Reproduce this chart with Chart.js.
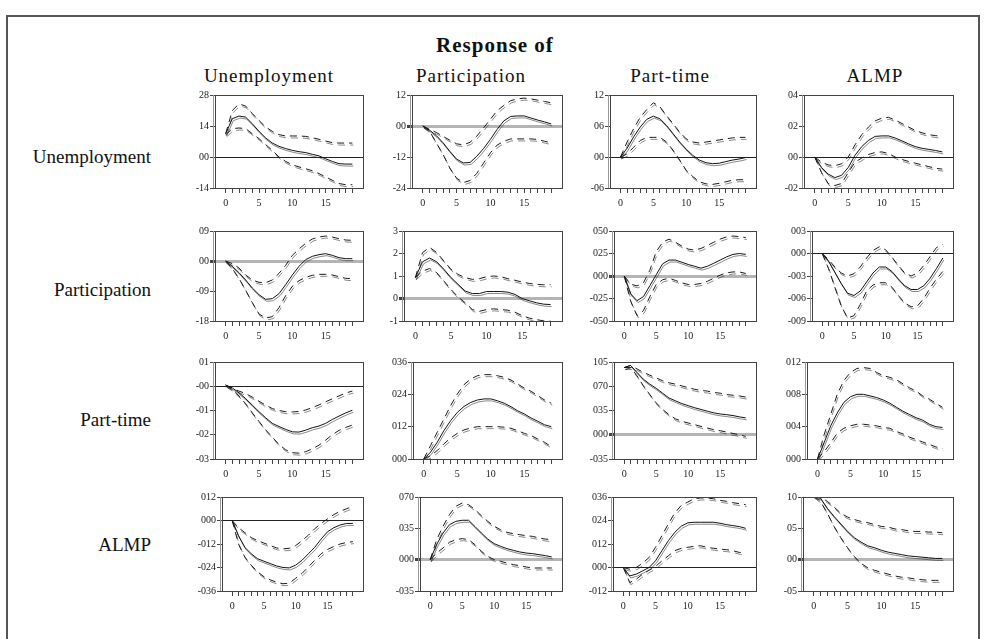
<!DOCTYPE html>
<html>
<head>
<meta charset="utf-8">
<script src="https://cdn.jsdelivr.net/npm/chart.js@4.4.1/dist/chart.umd.min.js"></script>
<style>
body { margin: 0; background: #fff; width: 986px; height: 639px; overflow: hidden; position: relative; font-family: "Liberation Serif", serif; color: #111; }
#frame { position: absolute; left: 6px; top: 15px; width: 974px; height: 640px; border: 2px solid #555; box-sizing: border-box; }
.lbl { position: absolute; white-space: nowrap; }
.head { font-size: 19px; text-align: center; width: 220px; top: 64px; line-height: 24px; letter-spacing: 1px; }
.row { font-size: 19px; text-align: right; left: 0; width: 151px; line-height: 24px; }
canvas { position: absolute; }
</style>
</head>
<body>
<div id="frame"></div>
<div class="lbl" style="left:0;width:990px;top:33px;text-align:center;font-size:21px;font-weight:bold;line-height:24px;letter-spacing:1px;">Response of</div>
<div class="lbl head" style="left:159px;">Unemployment</div>
<div class="lbl head" style="left:361px;">Participation</div>
<div class="lbl head" style="left:560px;">Part-time</div>
<div class="lbl head" style="left:765px;">ALMP</div>
<div class="lbl row" style="top:145px;">Unemployment</div>
<div class="lbl row" style="top:278px;">Participation</div>
<div class="lbl row" style="top:408px;">Part-time</div>
<div class="lbl row" style="top:533px;">ALMP</div>

<script>
// horizon and x ticks
const periods = [0,1,2,3,4,5,6,7,8,9,10,11,12,13,14,15,16,17,18,19];

// SHOCK: UNEMPLOYMENT
const unempByUnemp   = [10.5,17.3,18.5,18,15,11.6,8.6,6.3,4.8,3.8,3.0,2.4,2.0,1.2,0.5,-0.8,-2.0,-3.0,-3.2,-3.2];
const unempByUnempHi = [10.5,21,24,23,19.6,16.5,13.5,11.6,10.1,9.5,9.5,9.5,9.3,8.7,8.0,7.2,6.5,6.3,6.3,6.3];
const unempByUnempLo = [10,12.8,13.1,12.8,10.5,8.3,5.6,3.0,0,-2.0,-3.5,-4.5,-5.3,-6.2,-7.5,-9.0,-10.5,-12.0,-12.5,-12.5];
const unempByUnempTicks = [28,14,0,-14];
const unempByUnempTickText = ['28','14','00','-14'];

const participByUnemp   = [0,-1.6,-3.7,-6.5,-9.8,-12.8,-14.3,-14.1,-11.7,-8.7,-5.2,-1.3,2.0,3.7,3.9,3.9,3.1,2.3,1.6,0.8];
const participByUnempHi = [0,-1.3,-2.5,-4.0,-5.5,-6.9,-7.3,-6.3,-3.9,-0.7,2.6,5.9,8.0,9.8,10.5,10.8,10.5,10.0,9.5,9.0];
const participByUnempLo = [0,-2,-6.5,-11,-16.3,-20.2,-21.9,-21.1,-18.3,-14.3,-10.4,-7.4,-5.9,-5.0,-5.0,-5.0,-5.0,-5.2,-5.9,-6.5];
const participByUnempTicks = [12,0,-12,-24];
const participByUnempTickText = ['12','00','-12','-24'];

const partTimeByUnemp   = [0,1.7,3.9,5.8,7.3,7.9,7.4,6.1,4.5,2.9,1.5,0.3,-0.6,-1.1,-1.3,-1.2,-0.9,-0.6,-0.4,-0.1];
const partTimeByUnempHi = [0,2.9,5.5,7.7,9.2,10.5,9.7,8.0,6.4,4.8,3.5,2.9,2.7,2.9,3.1,3.3,3.5,3.7,3.8,3.8];
const partTimeByUnempLo = [0,0.6,1.9,3.2,3.8,3.8,3.8,2.9,1.3,-0.6,-2.6,-3.8,-4.8,-5.2,-5.3,-5.1,-4.8,-4.5,-4.4,-4.4];
const partTimeByUnempTicks = [12,6,0,-6];
const partTimeByUnempTickText = ['12','06','00','-06'];

const almpByUnemp   = [0,-0.67,-1.1,-1.33,-1.18,-0.67,0.11,0.67,1.07,1.33,1.36,1.36,1.22,1.04,0.84,0.67,0.56,0.49,0.42,0.33];
const almpByUnempHi = [0,-0.33,-0.51,-0.56,-0.44,0,0.78,1.44,1.93,2.33,2.51,2.56,2.38,2.16,1.93,1.71,1.56,1.44,1.38,1.33];
const almpByUnempLo = [0,-1.0,-1.71,-1.84,-1.71,-1.0,-0.33,-0.07,0.16,0.29,0.33,0.22,0,-0.16,-0.29,-0.4,-0.51,-0.62,-0.73,-0.78];
const almpByUnempTicks = [4,2,0,-2];
const almpByUnempTickText = ['04','02','00','-02'];

// SHOCK: PARTICIPATION
const unempByPartic   = [0,-1.6,-3.5,-5.7,-8.1,-10.1,-11.5,-11.3,-9.8,-7.1,-4.2,-1.6,0.4,1.4,1.9,2.2,1.7,1.0,0.7,0.7];
const unempByParticHi = [0,-0.8,-2.1,-4.2,-5.7,-6.4,-6.5,-5.7,-3.7,-1.3,1.7,3.6,5.3,6.6,7.2,7.5,7.2,6.7,6.3,6.2];
const unempByParticLo = [0,-2.3,-5.2,-8.8,-12.5,-15.9,-17.1,-16.7,-14.0,-10.4,-7.6,-5.9,-4.9,-4.3,-4.0,-4.0,-4.2,-4.7,-5.2,-5.3];
const unempByParticTicks = [9,0,-9,-18];
const unempByParticTickText = ['09','00','-09','-18'];

const participByPartic   = [0.93,1.63,1.8,1.63,1.3,0.93,0.63,0.33,0.22,0.22,0.31,0.31,0.31,0.28,0.18,0,-0.1,-0.19,-0.25,-0.27];
const participByParticHi = [0.93,2.04,2.27,2.04,1.67,1.3,1.07,0.93,0.85,0.88,0.97,1.0,0.97,0.88,0.81,0.73,0.67,0.63,0.61,0.61];
const participByParticLo = [0.93,1.22,1.33,1.15,0.78,0.4,0.07,-0.19,-0.49,-0.57,-0.49,-0.46,-0.49,-0.52,-0.61,-0.76,-0.87,-0.94,-0.99,-1.01];
const participByParticTicks = [3,2,1,0,-1];
const participByParticTickText = ['3','2','1','0','-1'];

const partTimeByPartic   = [0,-19.8,-27.4,-22.9,-10.8,1.4,13.5,17.7,17.7,15.3,12.8,10.8,8.7,10.8,14.2,17.7,21.2,24,25,24];
const partTimeByParticHi = [0,-9,-11,-7.6,6.3,27,37.5,41,37.5,33.3,29.9,28.8,30.6,34,37.5,41,43.4,44.4,43.8,42.7];
const partTimeByParticLo = [0,-28,-44,-38.5,-23,-9.4,-4.2,-2.4,-4.9,-7.6,-9.4,-9.4,-8.3,-5.9,-2.4,1,3.5,4.5,4.5,2.8];
const partTimeByParticTicks = [50,25,0,-25,-50];
const partTimeByParticTickText = ['050','025','000','-025','-050'];

const almpByPartic   = [0,-1.0,-2.5,-4.0,-5.3,-5.6,-5.0,-3.8,-2.6,-1.8,-1.8,-2.4,-3.4,-4.3,-4.8,-4.8,-4.3,-3.3,-2.0,-0.6];
const almpByParticHi = [0,-0.8,-1.8,-2.6,-3.0,-2.7,-1.8,-0.6,0.4,0.9,0.5,-0.5,-1.6,-2.6,-3.0,-2.6,-1.6,-0.4,0.8,1.2];
const almpByParticLo = [0,-2.0,-4.5,-7.0,-8.6,-8.3,-6.8,-5.0,-4.2,-3.9,-3.9,-4.5,-5.6,-6.6,-7.1,-7.0,-6.0,-4.6,-3.4,-2.4];
const almpByParticTicks = [3,0,-3,-6,-9];
const almpByParticTickText = ['003','000','-003','-006','-009'];

// SHOCK: PART-TIME
const unempByPartTime   = [0.05,-0.07,-0.27,-0.51,-0.78,-1.05,-1.3,-1.53,-1.66,-1.78,-1.88,-1.89,-1.81,-1.71,-1.64,-1.53,-1.37,-1.23,-1.1,-0.99];
const unempByPartTimeHi = [0.05,-0.1,-0.2,-0.3,-0.45,-0.62,-0.78,-0.92,-1.0,-1.05,-1.06,-1.04,-0.98,-0.88,-0.77,-0.64,-0.52,-0.4,-0.28,-0.2];
const unempByPartTimeLo = [0.05,-0.15,-0.4,-0.72,-1.1,-1.45,-1.8,-2.1,-2.4,-2.62,-2.74,-2.76,-2.7,-2.58,-2.43,-2.22,-2.0,-1.82,-1.7,-1.6];
const unempByPartTimeTicks = [1,0,-1,-2,-3];
const unempByPartTimeTickText = ['01','-00','-01','-02','-03'];

const participByPartTime   = [0,2.5,6.2,10.5,14.2,17.3,19.5,21,21.9,22.3,22.3,21.6,20.7,19.4,17.9,16.7,15.2,14,12.7,12];
const participByPartTimeHi = [0,4.9,9.9,14.8,19.8,24.1,27.6,29.7,30.9,31.3,31.3,30.9,30.3,29.3,27.8,26.3,25.1,23.5,21.9,20.7];
const participByPartTimeLo = [0,1.2,3.1,5.6,7.8,9.5,10.8,11.5,12,12,12,12,11.8,11.4,10.5,9.5,8.7,7.4,6.2,4.6];
const participByPartTimeTicks = [36,24,12,0];
const participByPartTimeTickText = ['036','024','012','000'];

const partTimeByPartTime   = [97,100,90,80,73,67,60,53,49,45,42,39,36.5,34,31.6,30,29,27.7,25.8,24.3];
const partTimeByPartTimeHi = [97,100,95,90,86,82,78,75,73,70.5,68,65.6,64,63,61,60,58,57,56,54.4];
const partTimeByPartTimeLo = [97,97,85,70.5,58,46,36.5,29,23,19.4,17,14.6,12,9.7,7.3,5.8,3.9,1.9,0,-2.4];
const partTimeByPartTimeTicks = [105,70,35,0,-35];
const partTimeByPartTimeTickText = ['105','070','035','000','-035'];

const almpByPartTime   = [0,2,4.1,5.7,7,7.7,8.0,8.0,7.8,7.6,7.3,6.9,6.4,5.9,5.5,5.1,4.8,4.3,4.0,3.9];
const almpByPartTimeHi = [0,3,5.5,8,9.7,10.7,11.2,11.3,11.2,10.7,10.3,10.1,9.8,9.3,8.8,8.4,7.8,7.4,6.9,6.4];
const almpByPartTimeLo = [0,0.9,2,3.2,3.8,4.1,4.3,4.3,4.2,4.1,3.9,3.8,3.4,3.1,2.7,2.4,2.1,1.8,1.5,1.3];
const almpByPartTimeTicks = [12,8,4,0];
const almpByPartTimeTickText = ['012','008','004','000'];

// SHOCK: ALMP
const unempByAlmp   = [0,-7.8,-13.7,-17,-19.5,-20.8,-22,-23.2,-24,-24.2,-22.8,-20.3,-17,-13.7,-9.5,-5.8,-3.7,-2.3,-1.5,-1.5];
const unempByAlmpHi = [0,-3.7,-6.2,-8.7,-10.3,-11.5,-12.8,-14,-14.5,-14.2,-12.8,-10.3,-7.5,-4.2,-1.5,0.8,3,4.7,6,7.2];
const unempByAlmpLo = [0,-12,-18.7,-22.8,-26.2,-28.7,-30.3,-31.5,-32.3,-32,-29.5,-27,-23.7,-20.3,-17,-14.8,-13.3,-12,-11.2,-10.8];
const unempByAlmpTicks = [12,0,-12,-24,-36];
const unempByAlmpTickText = ['012','000','-012','-024','-036'];

const participByAlmp   = [0,16.8,29.8,39,42.8,44,44,37,29.8,23,17.9,14.9,12.3,10.4,8.6,7.4,6.7,5.6,4.5,3];
const participByAlmpHi = [0,22.3,37.2,50.3,59.6,63.3,61.4,55.9,49.1,42.8,37.2,33.5,30.5,29,27.9,26.8,26,24.2,23,22.3];
const participByAlmpLo = [0,7.4,13,19.4,22.3,23.5,22.3,16.8,9.3,3.7,0,-1.9,-3.7,-5.6,-6.7,-8.2,-9.3,-9.3,-9.3,-9.3];
const participByAlmpTicks = [70,35,0,-35];
const participByAlmpTickText = ['070','035','000','-035'];

const partTimeByAlmp   = [0,-4.3,-3.4,-1.7,0,3.4,8.6,13.7,18,21.1,22.8,23.1,23.1,23.1,23.1,22.6,21.9,21.4,20.9,20];
const partTimeByAlmpHi = [0,-0.9,0,2.2,5.1,10.3,16.3,22.3,27.9,31.7,33.4,35.1,35.5,35.5,35.1,34.3,33.8,33.1,32.6,32.1];
const partTimeByAlmpLo = [0,-7.7,-6,-3.4,-1.4,0.5,3.4,6,8.6,9.8,10.3,10.8,11.1,10.3,9.8,9.4,9.1,8.6,7.7,7.7];
const partTimeByAlmpTicks = [36,24,12,0,-12];
const partTimeByAlmpTickText = ['036','024','012','000','-012'];

const almpByAlmp   = [10.1,9.8,8.2,6.9,5.7,4.5,3.5,2.8,2.2,1.9,1.5,1.2,1.0,0.8,0.6,0.5,0.4,0.3,0.2,0.2];
const almpByAlmpHi = [10.1,10,9.3,8.4,7.4,6.8,6.4,6.1,5.9,5.6,5.3,5.2,4.9,4.8,4.6,4.5,4.5,4.4,4.4,4.3];
const almpByAlmpLo = [10.1,9.3,7.4,5.3,3.5,1.9,0.5,-0.6,-1.3,-1.7,-2.0,-2.3,-2.6,-2.8,-2.9,-3.1,-3.2,-3.3,-3.3,-3.3];
const almpByAlmpTicks = [10,5,0,-5];
const almpByAlmpTickText = ['10','05','00','-05'];


// PANEL GRID - plot box [left, top, right, bottom] in page pixels

const panels = [
    { mid: unempByUnemp, hi: unempByUnempHi, lo: unempByUnempLo, ticks: unempByUnempTicks, text: unempByUnempTickText, zero: 'line', box: [215, 95, 363, 188] },
    { mid: participByUnemp, hi: participByUnempHi, lo: participByUnempLo, ticks: participByUnempTicks, text: participByUnempTickText, zero: 'gray', box: [412, 95, 562, 188] },
    { mid: partTimeByUnemp, hi: partTimeByUnempHi, lo: partTimeByUnempLo, ticks: partTimeByUnempTicks, text: partTimeByUnempTickText, zero: 'line', box: [610, 95, 756, 188] },
    { mid: almpByUnemp, hi: almpByUnempHi, lo: almpByUnempLo, ticks: almpByUnempTicks, text: almpByUnempTickText, zero: 'line', box: [804, 95, 953, 188] },

    { mid: unempByPartic, hi: unempByParticHi, lo: unempByParticLo, ticks: unempByParticTicks, text: unempByParticTickText, zero: 'gray', box: [215, 231, 363, 321] },
    { mid: participByPartic, hi: participByParticHi, lo: participByParticLo, ticks: participByParticTicks, text: participByParticTickText, zero: 'gray', box: [404, 231, 562, 321] },
    { mid: partTimeByPartic, hi: partTimeByParticHi, lo: partTimeByParticLo, ticks: partTimeByParticTicks, text: partTimeByParticTickText, zero: 'gray', box: [614, 231, 756, 321] },
    { mid: almpByPartic, hi: almpByParticHi, lo: almpByParticLo, ticks: almpByParticTicks, text: almpByParticTickText, zero: 'line', box: [812, 231, 953, 321] },

    { mid: unempByPartTime, hi: unempByPartTimeHi, lo: unempByPartTimeLo, ticks: unempByPartTimeTicks, text: unempByPartTimeTickText, zero: 'line', box: [215, 362, 363, 459] },
    { mid: participByPartTime, hi: participByPartTimeHi, lo: participByPartTimeLo, ticks: participByPartTimeTicks, text: participByPartTimeTickText, zero: 'line', box: [413, 362, 562, 459] },
    { mid: partTimeByPartTime, hi: partTimeByPartTimeHi, lo: partTimeByPartTimeLo, ticks: partTimeByPartTimeTicks, text: partTimeByPartTimeTickText, zero: 'gray', box: [614, 362, 756, 459] },
    { mid: almpByPartTime, hi: almpByPartTimeHi, lo: almpByPartTimeLo, ticks: almpByPartTimeTicks, text: almpByPartTimeTickText, zero: 'line', box: [807, 362, 953, 459] },

    { mid: unempByAlmp, hi: unempByAlmpHi, lo: unempByAlmpLo, ticks: unempByAlmpTicks, text: unempByAlmpTickText, zero: 'line', box: [222, 497, 363, 591] },
    { mid: participByAlmp, hi: participByAlmpHi, lo: participByAlmpLo, ticks: participByAlmpTicks, text: participByAlmpTickText, zero: 'gray', box: [420, 497, 562, 591] },
    { mid: partTimeByAlmp, hi: partTimeByAlmpHi, lo: partTimeByAlmpLo, ticks: partTimeByAlmpTicks, text: partTimeByAlmpTickText, zero: 'line', box: [613, 497, 756, 591] },
    { mid: almpByAlmp, hi: almpByAlmpHi, lo: almpByAlmpLo, ticks: almpByAlmpTicks, text: almpByAlmpTickText, zero: 'gray', box: [803, 497, 953, 591] }
];

const Y_AXIS_W = 40;
const X_AXIS_H = 24;
const PAD_TOP = 7;
const PAD_RIGHT = 4;
const tickFont = { family: 'Liberation Serif', size: 10 };

// box around the plot, with the second thin rule on the left
const frameBox = {
    id: 'frameBox',
    afterDraw(chart) {
        const a = chart.chartArea;
        const ctx = chart.ctx;
        ctx.save();
        ctx.strokeStyle = '#444';
        ctx.lineWidth = 1;
        ctx.strokeRect(Math.round(a.left) + 0.5, Math.round(a.top) + 0.5, Math.round(a.right - a.left), Math.round(a.bottom - a.top));
        ctx.strokeStyle = '#999';
        ctx.beginPath();
        ctx.moveTo(Math.round(a.left) - 1.5, a.top);
        ctx.lineTo(Math.round(a.left) - 1.5, a.bottom);
        ctx.stroke();
        ctx.restore();
    }
};

// each curve comes out doubled, like the printed figure
const doubled = {
    id: 'doubled',
    beforeDatasetDraw(chart) {
        chart.ctx.shadowColor = 'rgba(40,40,40,0.55)';
        chart.ctx.shadowOffsetX = 1;
        chart.ctx.shadowOffsetY = 2;
        chart.ctx.shadowBlur = 0;
    },
    afterDatasetDraw(chart) {
        chart.ctx.shadowColor = 'transparent';
        chart.ctx.shadowOffsetX = 0;
        chart.ctx.shadowOffsetY = 0;
    }
};

const toXY = (vals) => vals.map((v, i) => ({ x: periods[i], y: v }));

panels.forEach((p) => {
    const [left, top, right, bottom] = p.box;
    const canvas = document.createElement('canvas');
    canvas.width = (right - left) + Y_AXIS_W + PAD_RIGHT;
    canvas.height = (bottom - top) + PAD_TOP + X_AXIS_H;
    canvas.style.left = (left - Y_AXIS_W) + 'px';
    canvas.style.top = (top - PAD_TOP) + 'px';
    document.body.appendChild(canvas);

    const dash = { borderColor: '#1a1a1a', borderWidth: 1, borderDash: [7, 5] };

    new Chart(canvas, {
        type: 'line',
        data: {
            datasets: [
                { data: toXY(p.mid), borderColor: '#111', borderWidth: 1 },
                Object.assign({ data: toXY(p.hi) }, dash),
                Object.assign({ data: toXY(p.lo) }, dash)
            ]
        },
        options: {
            responsive: false,
            animation: false,
            devicePixelRatio: 1,
            layout: { padding: { top: PAD_TOP, right: PAD_RIGHT, left: 0, bottom: 0 } },
            plugins: { legend: { display: false }, tooltip: { enabled: false } },
            elements: { point: { radius: 0 }, line: { tension: 0, fill: false } },
            scales: {
                x: {
                    type: 'linear',
                    min: -1.6,
                    max: 20.6,
                    afterBuildTicks: (s) => { s.ticks = periods.map((v) => ({ value: v })); },
                    afterFit: (s) => { s.height = X_AXIS_H; },
                    ticks: {
                        autoSkip: false,
                        maxRotation: 0,
                        padding: 4,
                        color: '#222',
                        font: tickFont,
                        callback: (v) => (v % 5 === 0 ? String(v) : '')
                    },
                    grid: { drawOnChartArea: false, tickLength: 5, color: '#444' },
                    border: { color: '#444' }
                },
                y: {
                    min: Math.min(...p.ticks),
                    max: Math.max(...p.ticks),
                    afterBuildTicks: (s) => { s.ticks = p.ticks.slice().reverse().map((v) => ({ value: v })); },
                    afterFit: (s) => { s.width = Y_AXIS_W; },
                    ticks: {
                        padding: 1,
                        color: '#222',
                        font: tickFont,
                        callback: (v) => p.text[p.ticks.indexOf(v)]
                    },
                    grid: {
                        tickLength: 5,
                        tickColor: '#444',
                        color: (c) => (c.tick && c.tick.value === 0 ? (p.zero === 'gray' ? '#b4b4b4' : '#222') : 'transparent'),
                        lineWidth: (c) => (c.tick && c.tick.value === 0 && p.zero === 'gray' ? 3 : 1)
                    },
                    border: { color: '#444' }
                }
            }
        },
        plugins: [frameBox, doubled]
    });
});
</script>
</body>
</html>
